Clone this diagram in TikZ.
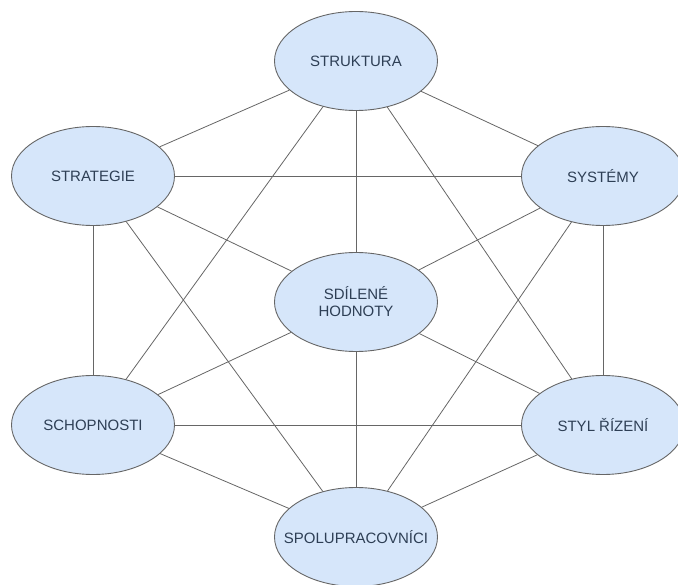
\documentclass[tikz,border=0pt]{standalone}
\usepackage{fontspec}
\setmainfont{Liberation Sans}
\usetikzlibrary{shapes.geometric}
\definecolor{sfill}{HTML}{D6E6FA}
\definecolor{sline}{HTML}{666666}
\definecolor{stext}{HTML}{2E3F55}

\begin{document}
\begin{tikzpicture}[
  x=1pt, y=-1pt,
  item/.style={ellipse, draw=sline, line width=0.9pt, fill=sfill, text=stext,
    minimum width=163pt, minimum height=99pt, inner xsep=-22pt, inner ysep=0pt,
    align=center, font=\fontsize{15}{17}\selectfont},
  link/.style={draw=sline, line width=0.8pt}
]
\useasboundingbox (0,0) rectangle (678,585);
\node[item] (strukt) at (356,61) {STRUKTURA};
\node[item] (strat) at (93,176) {STRATEGIE};
\node[item] (syst) at (603,176) {SYSTÉMY};
\node[item] (sdil) at (356,302) {SDÍLENÉ\\HODNOTY};
\node[item] (schop) at (93,425) {SCHOPNOSTI};
\node[item] (styl) at (603,425) {STYL ŘÍZENÍ};
\node[item] (spolu) at (356,537) {SPOLUPRACOVNÍCI};
% outer ring
\draw[link] (strukt) -- (syst);
\draw[link] (syst) -- (styl);
\draw[link] (styl) -- (spolu);
\draw[link] (spolu) -- (schop);
\draw[link] (schop) -- (strat);
\draw[link] (strat) -- (strukt);
% second neighbours
\draw[link] (strukt) -- (styl);
\draw[link] (strukt) -- (schop);
\draw[link] (syst) -- (spolu);
\draw[link] (syst) -- (strat);
\draw[link] (styl) -- (schop);
\draw[link] (spolu) -- (strat);
% centre
\draw[link] (sdil) -- (strukt);
\draw[link] (sdil) -- (syst);
\draw[link] (sdil) -- (styl);
\draw[link] (sdil) -- (spolu);
\draw[link] (sdil) -- (schop);
\draw[link] (sdil) -- (strat);
\end{tikzpicture}
\end{document}
